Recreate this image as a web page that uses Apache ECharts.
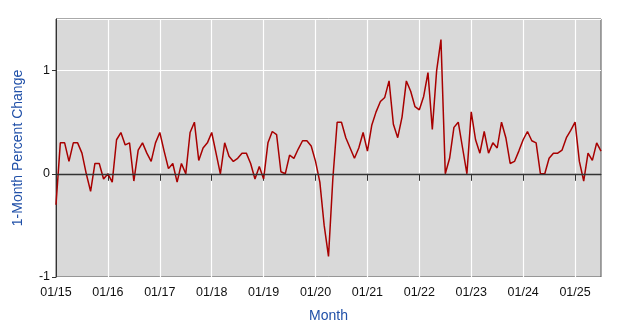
<!DOCTYPE html>
<html>
<head>
<meta charset="utf-8">
<script src="https://cdn.jsdelivr.net/npm/echarts@6/dist/echarts.min.js"></script>
<style>
  html, body { margin: 0; padding: 0; background: #fff; }
  #chart { width: 643px; height: 335px; }
</style>
</head>
<body>
<div id="chart"></div>
<script>
// 1-month percent change, monthly, Jan 2015 - Jul 2025
const y2015 = [-0.3, 0.3, 0.3, 0.12, 0.3, 0.3, 0.2, 0.0, -0.17, 0.1, 0.1, -0.05];
const y2016 = [0.0, -0.08, 0.33, 0.4, 0.28, 0.3, -0.07, 0.23, 0.3, 0.2, 0.12, 0.3];
const y2017 = [0.4, 0.22, 0.05, 0.1, -0.08, 0.1, 0.0, 0.4, 0.5, 0.13, 0.25, 0.3];
const y2018 = [0.4, 0.2, 0.0, 0.3, 0.17, 0.12, 0.15, 0.2, 0.2, 0.1, -0.05, 0.07];
const y2019 = [-0.05, 0.3, 0.41, 0.38, 0.02, 0.0, 0.18, 0.15, 0.24, 0.32, 0.32, 0.27];
const y2020 = [0.12, -0.08, -0.5, -0.8, -0.05, 0.5, 0.5, 0.35, 0.25, 0.15, 0.25, 0.4];
const y2021 = [0.22, 0.47, 0.6, 0.7, 0.74, 0.9, 0.48, 0.35, 0.55, 0.9, 0.8, 0.65];
const y2022 = [0.62, 0.75, 0.98, 0.43, 1.0, 1.3, 0.0, 0.15, 0.45, 0.5, 0.25, 0.0];
const y2023 = [0.6, 0.33, 0.2, 0.41, 0.2, 0.3, 0.25, 0.5, 0.35, 0.1, 0.12, 0.22];
const y2024 = [0.33, 0.41, 0.32, 0.3, 0.0, 0.0, 0.15, 0.2, 0.2, 0.23, 0.35, 0.42];
const y2025 = [0.5, 0.12, -0.07, 0.2, 0.13, 0.3, 0.22];

const years = [15, 16, 17, 18, 19, 20, 21, 22, 23, 24, 25];
const series = [y2015, y2016, y2017, y2018, y2019, y2020, y2021, y2022, y2023, y2024, y2025];

let months = [];
let values = [];
series.forEach(function (arr, k) {
  arr.forEach(function (v, m) {
    months.push(String(m + 1).padStart(2, "0") + "/" + years[k]);
    values.push(v);
  });
});

const isJan = function (idx) { return idx % 12 === 0; };
const blue = "#2050a8";

let chart = echarts.init(document.getElementById("chart"));
let option = {
  animation: false,
  textStyle: { fontFamily: "Liberation Sans, Arial, sans-serif" },
  grid: {
    left: 56, right: 42, top: 19, bottom: 58,
    show: true,
    backgroundColor: "#d9d9d9",
    borderColor: "#555",
    borderWidth: 1
  },
  xAxis: {
    type: "category",
    data: months,
    boundaryGap: false,
    name: "Month",
    nameLocation: "middle",
    nameGap: 32,
    nameTextStyle: { color: blue, fontSize: 14 },
    axisLine: { lineStyle: { color: "#333" } },
    axisTick: { interval: function (i) { return isJan(i); }, length: 7, lineStyle: { color: "#333" } },
    axisLabel: { interval: function (i) { return isJan(i); }, color: "#111", fontSize: 12.5, margin: 9 },
    splitLine: { show: true, interval: function (i) { return isJan(i) && i > 0; }, lineStyle: { color: "#fff", width: 1.2 } }
  },
  yAxis: {
    type: "value",
    min: -1,
    max: 1.5,
    interval: 1,
    name: "1-Month Percent Change",
    nameLocation: "middle",
    nameGap: 31,
    nameTextStyle: { color: blue, fontSize: 14 },
    axisLine: { show: true, lineStyle: { color: "#333" } },
    axisTick: { show: true, length: 4, lineStyle: { color: "#333" } },
    axisLabel: { color: "#111", fontSize: 12.5, margin: 6, showMaxLabel: false },
    splitLine: { show: true, lineStyle: { color: "#fff", width: 1.2 } }
  },
  series: [
    {
      type: "line",
      data: values,
      symbol: "none",
      lineStyle: { color: "#a80000", width: 1.5 },
      markLine: {
        silent: true,
        symbol: "none",
        label: { show: false },
        lineStyle: { color: "#333", type: "solid", width: 1.4 },
        data: [{ yAxis: 0 }]
      },
      z: 3
    }
  ]
};
chart.setOption(option);
</script>
</body>
</html>
